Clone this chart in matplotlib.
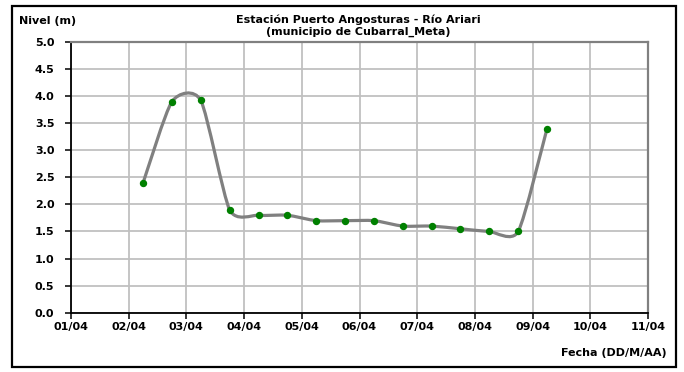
import datetime as dt
import numpy as np
import matplotlib
matplotlib.use("Agg")
import matplotlib.pyplot as plt
import matplotlib.dates as mdates
from matplotlib.path import Path
from matplotlib.patches import PathPatch, Rectangle

plt.rcParams.update({
    "font.family": ["DejaVu Sans"],
    "font.weight": "bold",
    "font.size": 8,
})

# lecturas (día de abril, hora) y nivel en metros
fechas = [
    (2, 6), (2, 18), (3, 6), (3, 18), (4, 6), (4, 18), (5, 6), (5, 18),
    (6, 6), (6, 18), (7, 6), (7, 18), (8, 6), (8, 18), (9, 6),
]
nivel = [2.4, 3.9, 3.92, 1.9, 1.8, 1.8, 1.7, 1.7,
         1.7, 1.6, 1.6, 1.55, 1.5, 1.5, 3.4]

x_ticks = [dt.datetime(2011, 4, d) for d in range(1, 12)]
y_ticks = [0.0, 0.5, 1.0, 1.5, 2.0, 2.5, 3.0, 3.5, 4.0, 4.5, 5.0]

GRID = "#c0c0c0"
LINE = "#808080"
GREEN = "#008000"

x = mdates.date2num([dt.datetime(2011, 4, d, h) for d, h in fechas])
y = np.array(nivel)

fig = plt.figure(figsize=(6.84, 3.72), dpi=100)
W, H = 684, 372
ax = fig.add_axes([71 / W, 1 - 312.7 / H, (648 - 71) / W, (312.7 - 42) / H])

# marco exterior
fig.patches.append(Rectangle((12 / W, 1 - 367 / H), (676 - 12) / W, (367 - 6) / H,
                             transform=fig.transFigure, fill=False,
                             edgecolor="black", linewidth=1.6))

# línea suavizada tipo Excel (curvas Bezier entre puntos)
k = 1 / 9
pts = np.column_stack([x, y])
verts = [pts[0]]
codes = [Path.MOVETO]
for i in range(len(pts) - 1):
    p0 = pts[i - 1] if i > 0 else pts[i]
    p1 = pts[i]
    p2 = pts[i + 1]
    p3 = pts[i + 2] if i + 2 < len(pts) else pts[i + 1]
    verts += [p1 + (p2 - p0) * k, p2 - (p3 - p1) * k, p2]
    codes += [Path.CURVE4] * 3
ax.add_patch(PathPatch(Path(verts, codes), fill=False, edgecolor=LINE,
                       linewidth=2.3, zorder=3, capstyle="round"))
ax.plot(x, y, linestyle="none", marker="o", markersize=4.3,
        color=GREEN, zorder=4)

ax.set_xlim(x_ticks[0], x_ticks[-1])
ax.set_ylim(0, 5)
ax.set_xticks(x_ticks)
ax.xaxis.set_major_formatter(mdates.DateFormatter("%d/%m"))
ax.set_yticks(y_ticks)
ax.set_yticklabels([f"{v:.1f}" for v in y_ticks])
ax.grid(True, color=GRID, linewidth=1.3)
ax.set_axisbelow(True)

for s in ["left", "bottom"]:
    ax.spines[s].set_color("black")
    ax.spines[s].set_linewidth(1.3)
for s in ["top", "right"]:
    ax.spines[s].set_color(LINE)
    ax.spines[s].set_linewidth(1.6)
ax.tick_params(direction="out", length=4, width=1.1, color="black",
               labelsize=8)
ax.tick_params(axis="y", pad=8)
ax.tick_params(axis="x", pad=3)

fig.text(19 / W, 1 - 21 / H, "Nivel (m)", ha="left", va="center",
         fontsize=8, fontweight="bold")
fig.text(358 / W, 1 - 20 / H, "Estación Puerto Angosturas - Río Ariari",
         ha="center", va="center", fontsize=8, fontweight="bold")
fig.text(358 / W, 1 - 32 / H, "(municipio de Cubarral_Meta)",
         ha="center", va="center", fontsize=8, fontweight="bold")
fig.text(667 / W, 1 - 353 / H, "Fecha (DD/M/AA)", ha="right", va="center",
         fontsize=8, fontweight="bold")

fig.savefig("out.png", dpi=100)
